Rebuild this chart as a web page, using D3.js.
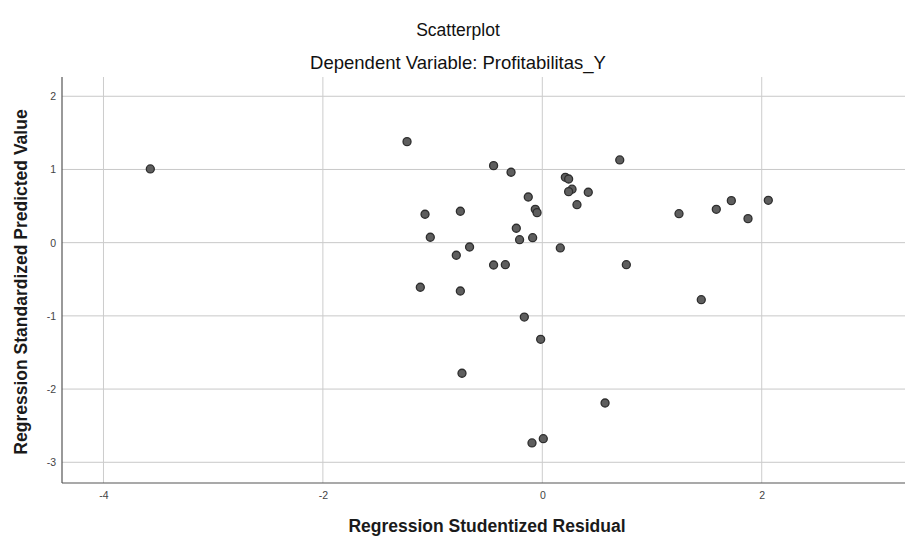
<!DOCTYPE html>
<html><head><meta charset="utf-8">
<script src="https://cdn.jsdelivr.net/npm/d3@7"></script>
<style>body{margin:0;background:#fff}svg{display:block}</style>
</head><body>
<svg id="c" width="905" height="541"></svg>
<script>
const residual = [-3.573,-1.233,-0.444,-0.285,0.706,0.210,0.240,0.271,0.240,0.419,0.316,-0.128,-0.064,-0.048,-1.069,-0.747,-0.237,-1.021,-0.207,-0.088,-0.663,-0.784,0.164,-0.444,-0.337,0.766,-1.112,-0.747,-0.164,-0.015,-0.732,0.572,-0.094,0.009,1.246,1.586,1.723,1.875,2.060,1.449];
const predicted = [1.007,1.380,1.052,0.962,1.130,0.893,0.870,0.730,0.697,0.689,0.519,0.624,0.456,0.410,0.388,0.429,0.197,0.074,0.041,0.068,-0.059,-0.172,-0.072,-0.305,-0.301,-0.301,-0.609,-0.660,-1.016,-1.320,-1.784,-2.190,-2.736,-2.678,0.396,0.456,0.574,0.328,0.579,-0.779];
const xTicks = [-4,-2,0,2];
const yTicks = [-3,-2,-1,0,1,2];
const title = "Scatterplot";
const subtitle = "Dependent Variable: Profitabilitas_Y";
const xTitle = "Regression Studentized Residual";
const yTitle = "Regression Standardized Predicted Value";

const svg = d3.select("#c");
const pL = 62, pR = 905, pT = 77, pB = 483;
const x = d3.scaleLinear().domain([-4.378, 3.306]).range([pL, pR]);
const y = d3.scaleLinear().domain([-3.283, 2.263]).range([pB, pT]);
const font = "'Liberation Sans', Arial, sans-serif";
const fmt = d => String(d);

// grid
svg.append("g").selectAll("line").data(yTicks).join("line")
  .attr("x1", pL).attr("x2", pR)
  .attr("y1", d => y(d)).attr("y2", d => y(d))
  .attr("stroke", "#c8c8c8").attr("stroke-width", 1);
svg.append("g").selectAll("line").data(xTicks).join("line")
  .attr("x1", d => x(d)).attr("x2", d => x(d))
  .attr("y1", pT).attr("y2", pB)
  .attr("stroke", "#cccccc").attr("stroke-width", 1);

// axes
const xAxis = svg.append("g").attr("transform", `translate(0,${pB})`)
  .call(d3.axisBottom(x).tickValues(xTicks).tickSize(0).tickPadding(9).tickFormat(fmt));
const yAxis = svg.append("g").attr("transform", `translate(${pL},0)`)
  .call(d3.axisLeft(y).tickValues(yTicks).tickSize(0).tickPadding(6).tickFormat(fmt));
[xAxis, yAxis].forEach(a => {
  a.select(".domain").attr("stroke", "#555").attr("stroke-width", 1.2);
  a.selectAll("text").attr("font-family", font).attr("font-size", 10.5).attr("fill", "#444");
});
xAxis.select(".domain").attr("d", `M${pL},0H${pR}`);
yAxis.select(".domain").attr("d", `M0,${pT}V${pB}`);

// points
svg.append("g").selectAll("circle").data(residual).join("circle")
  .attr("cx", d => x(d)).attr("cy", (d, i) => y(predicted[i]))
  .attr("r", 4).attr("fill", "#5e5e5e").attr("stroke", "#2e2e2e").attr("stroke-width", 1.3);

// titles
svg.append("text").attr("x", 458).attr("y", 36).attr("text-anchor", "middle")
  .attr("font-family", font).attr("font-size", 17.5).attr("fill", "#111").text(title);
svg.append("text").attr("x", 458).attr("y", 69).attr("text-anchor", "middle")
  .attr("font-family", font).attr("font-size", 18.5).attr("fill", "#111").text(subtitle);
svg.append("text").attr("x", 487).attr("y", 532).attr("text-anchor", "middle")
  .attr("font-family", font).attr("font-size", 17.5).attr("font-weight", "bold").attr("fill", "#1a1a1a").text(xTitle);
svg.append("text").attr("transform", "translate(27,282) rotate(-90)").attr("text-anchor", "middle")
  .attr("font-family", font).attr("font-size", 17.5).attr("font-weight", "bold").attr("fill", "#1a1a1a").text(yTitle);
</script>
</body></html>
